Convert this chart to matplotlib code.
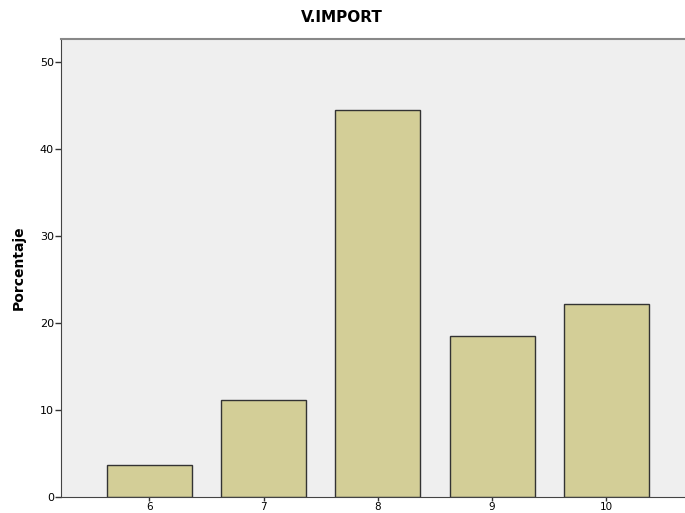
import matplotlib
matplotlib.use('Agg')
import matplotlib.pyplot as plt

# Data
categories = ['6', '7', '8', '9', '10']
percent = [3.7, 11.1, 44.4, 18.5, 22.2]
yticks = [0, 10, 20, 30, 40, 50]

fig = plt.figure(figsize=(6.85, 5.13), dpi=100)
ax = fig.add_axes([61 / 685, 16 / 513, 1 - 61 / 685, 458 / 513])
ax.set_facecolor('#efefef')

x = list(range(len(categories)))
ax.bar(x, percent, width=0.744, color='#d3ce97', edgecolor='#333333', linewidth=1.0)

ax.set_xlim(-0.775, 4.69)
ax.set_ylim(0, 52.6)
ax.set_xticks(x)
ax.set_xticklabels(categories, fontsize=7.5)
ax.set_yticks(yticks)
ax.set_yticklabels([str(t) for t in yticks], fontsize=8)
ax.tick_params(axis='both', length=4, width=1, color='#333333', pad=1)
ax.tick_params(axis='x', length=3, pad=0.3)

ax.spines['right'].set_visible(False)
ax.spines['top'].set_color('#888888')
ax.spines['top'].set_linewidth(1.5)
ax.spines['left'].set_color('#444444')
ax.spines['bottom'].set_color('#444444')

ax.set_ylabel('Porcentaje', fontsize=10, fontweight='bold', labelpad=10)
fig.text(342 / 685, 1 - 18 / 513, 'V.IMPORT', fontsize=11, fontweight='bold',
         ha='center', va='center')

fig.savefig('out.png', dpi=100)
